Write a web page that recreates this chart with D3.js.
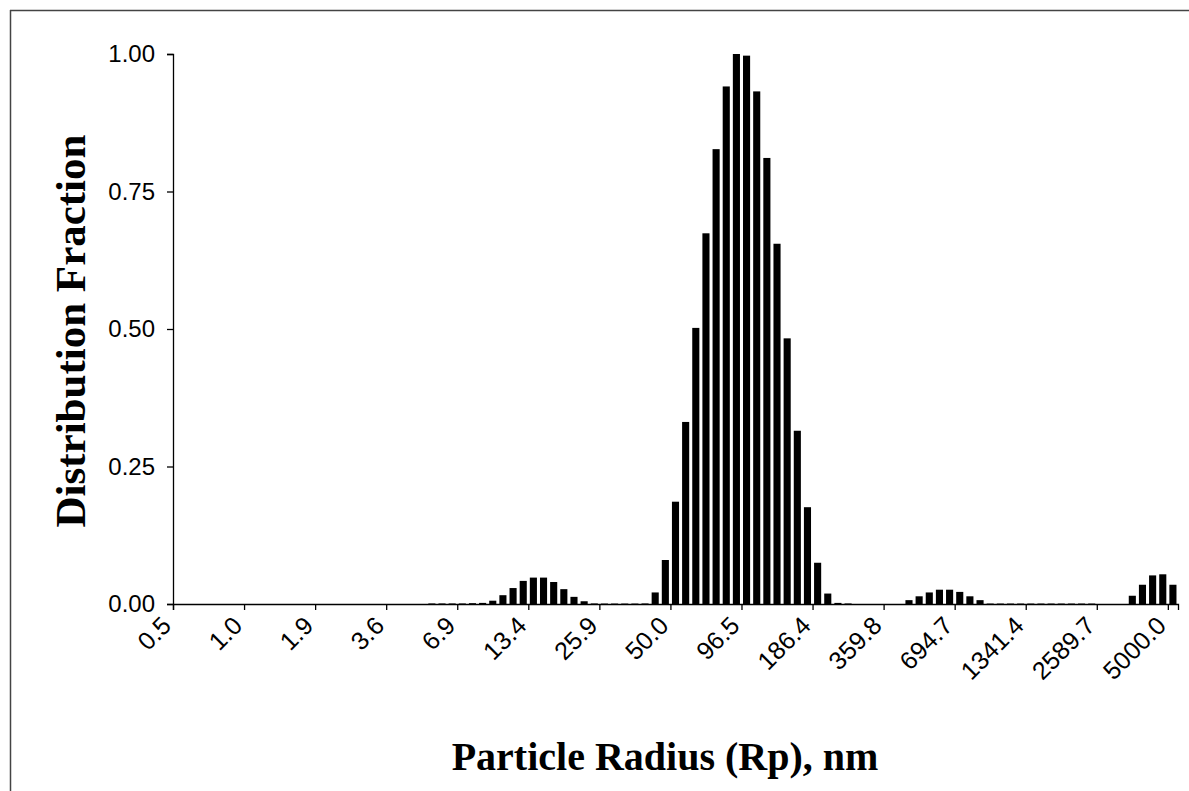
<!DOCTYPE html>
<html>
<head>
<meta charset="utf-8">
<script src="https://cdn.jsdelivr.net/npm/d3@7"></script>
<style>
  body { margin: 0; background: #fff; }
  svg { display: block; }
</style>
</head>
<body>
<svg id="chart" width="1189" height="791"></svg>
<script>
// tick labels, one every 7 size bins (log spaced 0.5 .. 5000 nm)
var tickLabels = ["0.5", "1.0", "1.9", "3.6", "6.9", "13.4", "25.9", "50.0",
  "96.5", "186.4", "359.8", "694.7", "1341.4", "2589.7", "5000.0"];
var binsPerLabel = 7;

// distribution fraction per size bin (99 bins)
var fraction = [
  0, 0, 0, 0, 0, 0, 0, 0, 0, 0,
  0, 0, 0, 0, 0, 0, 0, 0, 0, 0,
  0, 0, 0, 0, 0,
  0.001, 0.001, 0.001, 0.001, 0.0015, 0.002,
  0.006, 0.016, 0.029, 0.042, 0.048, 0.048, 0.040, 0.027, 0.013, 0.005,
  0.001, 0.0008, 0.0008, 0.0008, 0.0008, 0.001,
  0.021, 0.080, 0.186, 0.331, 0.502, 0.674, 0.827, 0.941, 1.000,
  0.997, 0.932, 0.811, 0.655, 0.483, 0.315, 0.176, 0.075, 0.019,
  0.002, 0.001,
  0, 0, 0, 0, 0,
  0.007, 0.014, 0.021, 0.026, 0.026, 0.022, 0.014, 0.007,
  0.0008, 0.0008, 0.0008, 0.0008, 0.0008, 0.0008, 0.0008, 0.0008, 0.0008, 0.0008, 0.0008,
  0, 0, 0,
  0.015, 0.035, 0.052, 0.054, 0.035
];
var yTicks = [0, 0.25, 0.5, 0.75, 1.0];

(function() {
var svg = d3.select("#chart");
var plot = {left: 173, right: 1178, top: 54, bottom: 604};

// frame of the scanned figure
svg.append("line").attr("x1", 10).attr("x2", 1189).attr("y1", 10.5).attr("y2", 10.5)
  .attr("stroke", "#444").attr("stroke-width", 1.5);
svg.append("line").attr("x1", 10.5).attr("x2", 10.5).attr("y1", 10).attr("y2", 791)
  .attr("stroke", "#444").attr("stroke-width", 1.5);

var x = d3.scaleBand()
  .domain(d3.range(fraction.length))
  .range([plot.left, plot.right])
  .paddingInner(0.3)
  .paddingOuter(0.15);
// edges of the bins, ticks sit between categories
var xEdge = d3.scaleLinear().domain([0, fraction.length]).range([plot.left, plot.right]);
var y = d3.scaleLinear().domain([0, 1]).range([plot.bottom, plot.top]);

svg.append("g")
  .selectAll("rect")
  .data(fraction)
  .enter().append("rect")
  .attr("x", function(d, i) { return x(i); })
  .attr("width", x.bandwidth())
  .attr("y", function(d) { return y(d); })
  .attr("height", function(d) { return plot.bottom - y(d); })
  .attr("fill", "#000");

var yAxis = svg.append("g")
  .attr("transform", "translate(" + plot.left + ",0)")
  .call(d3.axisLeft(y).tickValues(yTicks).tickFormat(d3.format(".2f")).tickSize(6).tickPadding(12));

var xAxis = svg.append("g")
  .attr("transform", "translate(0," + plot.bottom + ")")
  .call(d3.axisBottom(xEdge)
    .tickValues(tickLabels.map(function(d, i) { return i * binsPerLabel; }))
    .tickFormat(function(d, i) { return tickLabels[i]; })
    .tickSize(6));

[xAxis, yAxis].forEach(function(a) {
  a.select(".domain").attr("stroke", "#000").attr("stroke-width", 1.3);
  a.selectAll(".tick line").attr("stroke", "#000").attr("stroke-width", 1.3);
  a.selectAll("text")
    .attr("fill", "#000")
    .style("font-family", "'Liberation Sans', Arial, sans-serif")
    .style("font-size", "24px");
});

xAxis.selectAll("text")
  .attr("y", 0).attr("dy", "0.35em")
  .attr("text-anchor", "end")
  .attr("transform", "translate(-7,17) rotate(-45)")
  .style("font-size", "25px");

svg.append("text")
  .attr("transform", "translate(70,331) rotate(-90)")
  .attr("dy", "0.35em")
  .attr("text-anchor", "middle")
  .style("font-family", "'Liberation Serif', 'Times New Roman', serif")
  .style("font-weight", "bold")
  .style("font-size", "43px")
  .text("Distribution Fraction");

svg.append("text")
  .attr("x", 665)
  .attr("y", 770)
  .attr("text-anchor", "middle")
  .style("font-family", "'Liberation Serif', 'Times New Roman', serif")
  .style("font-weight", "bold")
  .style("font-size", "40px")
  .text("Particle Radius (Rp), nm");
})();
</script>
</body>
</html>
